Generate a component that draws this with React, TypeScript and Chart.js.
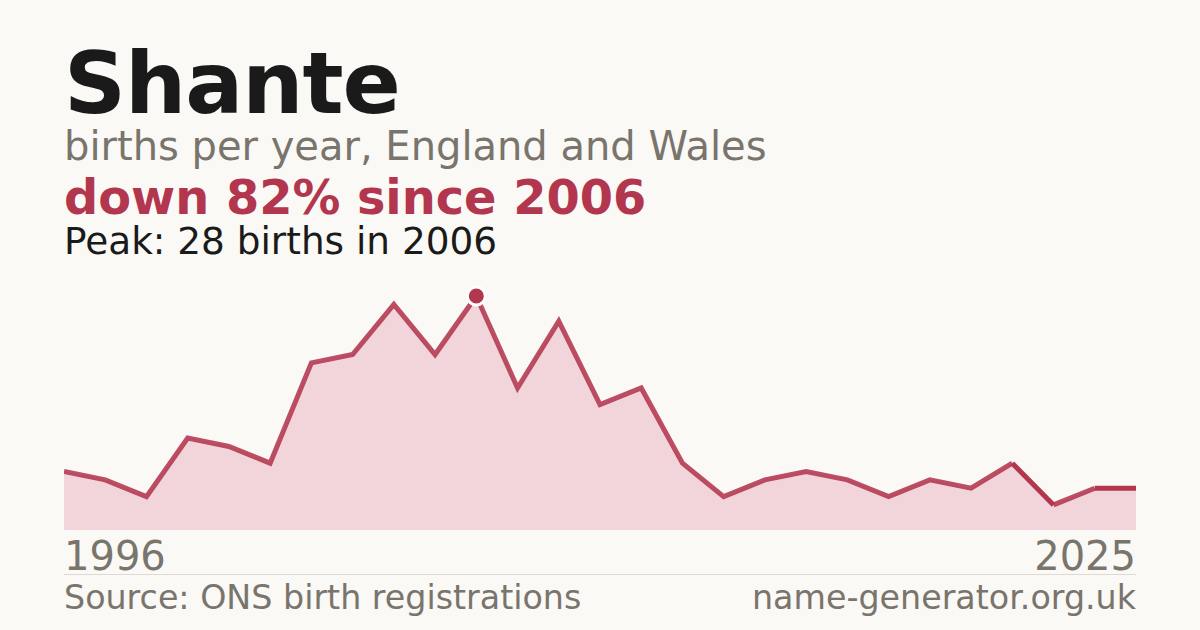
import React, { useEffect, useRef } from "react";
import { Chart, registerables } from "chart.js";

Chart.register(...registerables);

// years with a registered count (missing years had too few births to be published)
const years = [
  1996, 1997, 1998, 1999, 2000, 2001, 2002, 2003, 2004, 2005, 2006, 2007, 2008, 2009,
  2010, 2011, 2012, 2013, 2014, 2015, 2016, 2017, 2018, 2019, 2021, 2022, 2025,
];
const births = [
  7, 6, 4, 11, 10, 8, 20, 21, 27, 21, 28, 17, 25, 15, 17, 8, 4, 6, 7, 6, 4, 6, 5, 8, 3, 5, 5,
];

const RED = "#b3364f";
const LINE = "rgba(179,54,79,0.88)";
const GREY = "#79746c";
const FONT = '"DejaVu Sans", sans-serif';

const peak = Math.max(...births);
const peakIndex = births.indexOf(peak);
const peakYear = years[peakIndex];
const drop = Math.round((1 - births[births.length - 1] / peak) * 100);

const NameChart: React.FC = () => {
  const chartRef = useRef<HTMLCanvasElement | null>(null);
  const chartInstance = useRef<Chart | null>(null);

  useEffect(() => {
    if (chartInstance.current) {
      chartInstance.current.destroy();
    }
    if (!chartRef.current) return;

    chartInstance.current = new Chart(chartRef.current, {
      type: "line",
      data: {
        labels: years.map(String),
        datasets: [
          {
            // area under the line, drawn on its own so it has no seams
            data: births,
            fill: "origin",
            backgroundColor: "#f1d5db",
            borderWidth: 0,
            pointRadius: 0,
            tension: 0,
            order: 2,
          },
          {
            data: births,
            fill: false,
            borderColor: LINE,
            borderWidth: 5,
            tension: 0,
            segment: {
              // solid where the line jumps over unpublished years
              borderColor: (ctx) =>
                years[ctx.p1DataIndex] - years[ctx.p0DataIndex] > 1 ? RED : LINE,
            },
            pointRadius: (ctx) => (ctx.dataIndex === peakIndex ? 9 : 0),
            pointHoverRadius: 0,
            pointBackgroundColor: RED,
            pointBorderColor: "#ffffff",
            pointBorderWidth: 3,
            order: 1,
          },
        ],
      },
      options: {
        animation: false,
        responsive: true,
        maintainAspectRatio: false,
        layout: { padding: 0 },
        plugins: {
          legend: { display: false },
          tooltip: { enabled: false },
        },
        scales: {
          x: { display: false, offset: false },
          y: { display: false, min: 0, max: 31 },
        },
      },
    });

    return () => {
      if (chartInstance.current) {
        chartInstance.current.destroy();
        chartInstance.current = null;
      }
    };
  }, []);

  const text = (
    top: number,
    size: number,
    color: string,
    bold = false
  ): React.CSSProperties => ({
    position: "absolute",
    top,
    fontFamily: FONT,
    fontSize: size,
    lineHeight: 1,
    fontWeight: bold ? "bold" : "normal",
    color,
    whiteSpace: "nowrap",
  });

  return (
    <div
      style={{
        position: "fixed",
        left: 0,
        top: 0,
        width: 1200,
        height: 630,
        background: "#faf9f5",
        overflow: "hidden",
      }}
    >
      <div
        style={{ ...text(39.5, 86, "#1a1a1a", true), left: 64, letterSpacing: -1 }}
      >
        Shante
      </div>
      <div style={{ ...text(126, 40, GREY), left: 64 }}>
        births per year, England and Wales
      </div>
      <div style={{ ...text(174, 47.8, RED, true), left: 64 }}>
        down {drop}% since {peakYear}
      </div>
      <div style={{ ...text(222.5, 37.4, "#1a1a1a"), left: 64 }}>
        Peak: {peak} births in {peakYear}
      </div>

      <div
        style={{ position: "absolute", left: 64, top: 271, width: 1072, height: 259 }}
      >
        <canvas ref={chartRef}></canvas>
      </div>

      <div style={{ ...text(535.5, 40, GREY), left: 64 }}>{years[0]}</div>
      <div style={{ ...text(535.5, 40, GREY), right: 64 }}>
        {years[years.length - 1]}
      </div>
      <div
        style={{
          position: "absolute",
          left: 64,
          top: 574,
          width: 1072,
          height: 1,
          background: "#dedad3",
        }}
      />
      <div style={{ ...text(581, 33.3, GREY), left: 64 }}>
        Source: ONS birth registrations
      </div>
      <div style={{ ...text(581, 33.3, GREY), right: 64 }}>name-generator.org.uk</div>
    </div>
  );
};

export default function App() {
  return <NameChart />;
}
